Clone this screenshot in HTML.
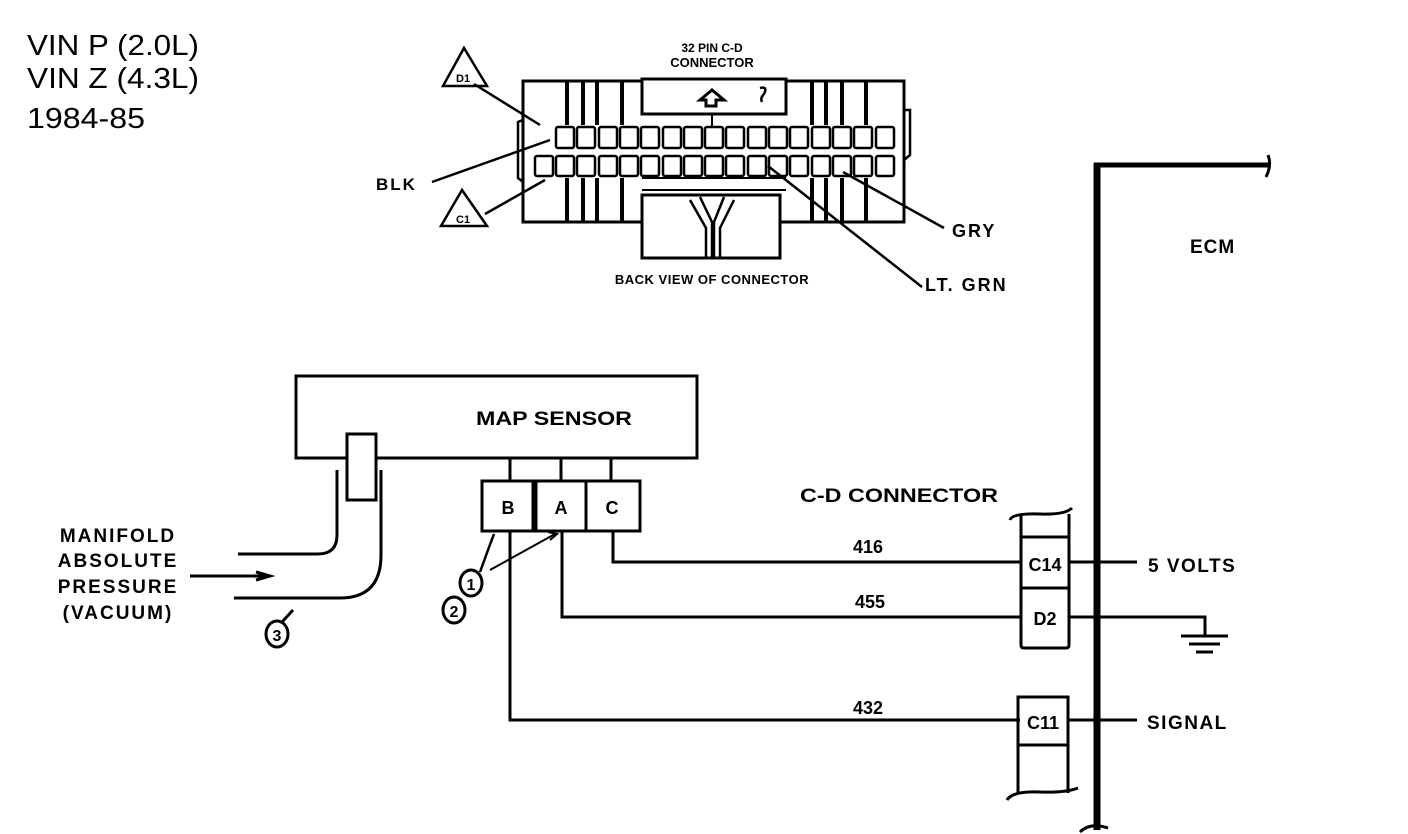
<!DOCTYPE html>
<html><head><meta charset="utf-8"><style>
html,body{margin:0;padding:0;background:#fff;}
svg{display:block;}
.h{font-family:"Liberation Sans",sans-serif;font-weight:bold;fill:#000;}
</style></head><body>
<svg width="1408" height="834" viewBox="0 0 1408 834" xmlns="http://www.w3.org/2000/svg">
<g font-family="Liberation Sans, sans-serif" font-size="29" fill="#000">
<text x="27" y="55" textLength="172" lengthAdjust="spacingAndGlyphs">VIN P (2.0L)</text>
<text x="27" y="88" textLength="172" lengthAdjust="spacingAndGlyphs">VIN Z (4.3L)</text>
<text x="27" y="128" textLength="118" lengthAdjust="spacingAndGlyphs">1984-85</text>
</g>
<!-- connector back view -->
<g stroke="#000" fill="none" stroke-width="3">
<rect x="523" y="81" width="381" height="141"/>
<rect x="642" y="79" width="144" height="35" fill="#fff"/>
<line x1="642" y1="114" x2="786" y2="114" stroke-width="2"/>
<rect x="642" y="195" width="138" height="63" fill="#fff"/>
<path d="M700 100 L712 90 L724 100 L716 100 L716 106 L706 106 L706 100 Z" stroke-width="3"/>
<path d="M760 88 Q768 86 764 94 Q760 98 762 102" stroke-width="2.5"/>
<line x1="712" y1="114" x2="712" y2="126" stroke-width="2"/>
<g stroke-width="4">
<line x1="567" y1="82" x2="567" y2="125"/><line x1="583" y1="82" x2="583" y2="125"/><line x1="597" y1="82" x2="597" y2="125"/><line x1="622" y1="82" x2="622" y2="125"/>
<line x1="812" y1="82" x2="812" y2="125"/><line x1="826" y1="82" x2="826" y2="125"/><line x1="842" y1="82" x2="842" y2="125"/><line x1="866" y1="82" x2="866" y2="125"/>
<line x1="567" y1="178" x2="567" y2="221"/><line x1="583" y1="178" x2="583" y2="221"/><line x1="597" y1="178" x2="597" y2="221"/><line x1="622" y1="178" x2="622" y2="221"/>
<line x1="812" y1="178" x2="812" y2="221"/><line x1="826" y1="178" x2="826" y2="221"/><line x1="842" y1="178" x2="842" y2="221"/><line x1="866" y1="178" x2="866" y2="221"/>
</g>
<line x1="642" y1="178" x2="786" y2="178" stroke-width="2"/>
<line x1="642" y1="190" x2="786" y2="190" stroke-width="2"/>
<path d="M700 197 L712 222 L712 257 M724 197 L714 222 L714 257 M690 200 L706 228 L706 257 M734 200 L720 228 L720 257" stroke-width="2.5"/>
<path d="M523 120 L518 122 L518 178 L523 182 M904 110 L910 110 L910 155 L904 160" stroke-width="2.5"/>
</g>
<g stroke="#000" fill="#fff" stroke-width="2.5">
<rect x="556" y="127" width="18" height="21" rx="2"/><rect x="577" y="127" width="18" height="21" rx="2"/><rect x="599" y="127" width="18" height="21" rx="2"/><rect x="620" y="127" width="18" height="21" rx="2"/><rect x="641" y="127" width="18" height="21" rx="2"/><rect x="663" y="127" width="18" height="21" rx="2"/><rect x="684" y="127" width="18" height="21" rx="2"/><rect x="705" y="127" width="18" height="21" rx="2"/><rect x="726" y="127" width="18" height="21" rx="2"/><rect x="748" y="127" width="18" height="21" rx="2"/><rect x="769" y="127" width="18" height="21" rx="2"/><rect x="790" y="127" width="18" height="21" rx="2"/><rect x="812" y="127" width="18" height="21" rx="2"/><rect x="833" y="127" width="18" height="21" rx="2"/><rect x="854" y="127" width="18" height="21" rx="2"/><rect x="876" y="127" width="18" height="21" rx="2"/>
<rect x="535" y="156" width="18" height="20" rx="2"/><rect x="556" y="156" width="18" height="20" rx="2"/><rect x="577" y="156" width="18" height="20" rx="2"/><rect x="599" y="156" width="18" height="20" rx="2"/><rect x="620" y="156" width="18" height="20" rx="2"/><rect x="641" y="156" width="18" height="20" rx="2"/><rect x="663" y="156" width="18" height="20" rx="2"/><rect x="684" y="156" width="18" height="20" rx="2"/><rect x="705" y="156" width="18" height="20" rx="2"/><rect x="726" y="156" width="18" height="20" rx="2"/><rect x="748" y="156" width="18" height="20" rx="2"/><rect x="769" y="156" width="18" height="20" rx="2"/><rect x="790" y="156" width="18" height="20" rx="2"/><rect x="812" y="156" width="18" height="20" rx="2"/><rect x="833" y="156" width="18" height="20" rx="2"/><rect x="854" y="156" width="18" height="20" rx="2"/><rect x="876" y="156" width="18" height="20" rx="2"/>
</g>
<!-- triangles and leaders -->
<g stroke="#000" fill="none" stroke-width="2.5">
<path d="M464 48 L443 86 L487 86 Z" fill="#fff"/>
<path d="M462 190 L441 226 L487 226 Z" fill="#fff"/>
<line x1="474" y1="84" x2="540" y2="125"/>
<line x1="432" y1="182" x2="550" y2="140"/>
<line x1="485" y1="214" x2="545" y2="180"/>
<line x1="944" y1="228" x2="843" y2="172"/>
<line x1="922" y1="287" x2="768" y2="166"/>
</g>
<text class="h" x="456" y="82" font-size="11">D1</text>
<text class="h" x="456" y="223" font-size="11">C1</text>
<text class="h" x="712" y="52" font-size="12" text-anchor="middle">32 PIN C-D</text>
<text class="h" x="712" y="67" font-size="13" text-anchor="middle">CONNECTOR</text>
<text class="h" x="712" y="284" font-size="13" text-anchor="middle" letter-spacing="0.5">BACK VIEW OF CONNECTOR</text>
<text class="h" x="376" y="190" font-size="17" letter-spacing="2">BLK</text>
<text class="h" x="952" y="237" font-size="18" letter-spacing="2">GRY</text>
<text class="h" x="925" y="291" font-size="18" letter-spacing="2">LT. GRN</text>
<text class="h" x="1190" y="253" font-size="19" letter-spacing="1">ECM</text>
<!-- ECM bar -->
<g stroke="#000" fill="none">
<line x1="1097" y1="163" x2="1097" y2="830" stroke-width="7"/>
<line x1="1094" y1="165" x2="1268" y2="165" stroke-width="5"/>
<path d="M1268 155 Q1272 165 1266 177" stroke-width="3"/>
<path d="M1080 832 Q1090 822 1108 828" stroke-width="3"/>
</g>
<!-- MAP sensor -->
<g stroke="#000" fill="none" stroke-width="3">
<rect x="296" y="376" width="401" height="82" fill="#fff"/>
<rect x="347" y="434" width="29" height="66" fill="#fff"/>
<path d="M337 470 L337 535 Q337 554 318 554 L238 554"/>
<path d="M381 470 L381 555 Q381 598 340 598 L234 598"/>
<line x1="190" y1="576" x2="270" y2="576"/>
<path d="M256 572 L270 576 L256 580"/>
<line x1="510" y1="458" x2="510" y2="481"/><line x1="561" y1="458" x2="561" y2="481"/><line x1="611" y1="458" x2="611" y2="481"/>
<rect x="482" y="481" width="51" height="50" fill="#fff"/>
<rect x="536" y="481" width="50" height="50" fill="#fff"/>
<rect x="586" y="481" width="54" height="50" fill="#fff"/>
<path d="M613 531 L613 562 L1020 562"/>
<path d="M562 531 L562 617 L1020 617"/>
<path d="M510 531 L510 720 L1020 720"/>
<path d="M480 572 L488 550 L494 534" stroke-width="2.5"/>
<path d="M490 570 L555 534" stroke-width="2"/>
<path d="M548 532 L557 534 L550 540" stroke-width="2"/>
<ellipse cx="471" cy="583" rx="11" ry="13" fill="#fff"/>
<ellipse cx="454" cy="610" rx="11" ry="13" fill="#fff"/>
<ellipse cx="277" cy="634" rx="11" ry="13" fill="#fff"/>
<path d="M282 622 L293 610" stroke-width="3"/>
</g>
<text class="h" x="471" y="590" font-size="16" text-anchor="middle">1</text>
<text class="h" x="454" y="617" font-size="16" text-anchor="middle">2</text>
<text class="h" x="277" y="641" font-size="16" text-anchor="middle">3</text>
<text class="h" x="508" y="514" font-size="18" text-anchor="middle">B</text>
<text class="h" x="561" y="514" font-size="18" text-anchor="middle">A</text>
<text class="h" x="612" y="514" font-size="18" text-anchor="middle">C</text>
<text class="h" x="476" y="425" font-size="19" textLength="156" lengthAdjust="spacingAndGlyphs">MAP SENSOR</text>
<g class="h" font-size="19" letter-spacing="2" text-anchor="middle">
<text x="118" y="542">MANIFOLD</text>
<text x="118" y="567">ABSOLUTE</text>
<text x="118" y="593">PRESSURE</text>
<text x="118" y="619">(VACUUM)</text>
</g>
<text class="h" x="800" y="502" font-size="19" textLength="198" lengthAdjust="spacingAndGlyphs">C-D CONNECTOR</text>
<text class="h" x="868" y="553" font-size="18" text-anchor="middle">416</text>
<text class="h" x="870" y="608" font-size="18" text-anchor="middle">455</text>
<text class="h" x="868" y="714" font-size="18" text-anchor="middle">432</text>
<!-- C-D connector on ECM -->
<g stroke="#000" fill="none" stroke-width="3">
<path d="M1010 520 Q1012 513 1040 514 Q1065 515 1072 508"/>
<path d="M1021 514 L1021 645 Q1021 648 1024 648 L1066 648 Q1069 648 1069 645 L1069 514"/>
<line x1="1021" y1="537" x2="1069" y2="537"/>
<line x1="1021" y1="588" x2="1069" y2="588"/>
<path d="M1018 793 L1018 697 L1068 697 L1068 793"/>
<line x1="1018" y1="745" x2="1068" y2="745"/>
<path d="M1007 800 Q1012 791 1040 792 Q1065 793 1078 788"/>
<line x1="1069" y1="562" x2="1137" y2="562"/>
<path d="M1069 617 L1205 617 L1205 636"/>
<line x1="1181" y1="636" x2="1228" y2="636"/>
<line x1="1189" y1="644" x2="1220" y2="644"/>
<line x1="1196" y1="652" x2="1213" y2="652"/>
<line x1="1068" y1="720" x2="1137" y2="720"/>
</g>
<text class="h" x="1045" y="571" font-size="18" text-anchor="middle">C14</text>
<text class="h" x="1045" y="625" font-size="18" text-anchor="middle">D2</text>
<text class="h" x="1043" y="729" font-size="18" text-anchor="middle">C11</text>
<text class="h" x="1148" y="572" font-size="19" letter-spacing="1.5">5 VOLTS</text>
<text class="h" x="1147" y="729" font-size="19" letter-spacing="1.5">SIGNAL</text>
</svg>
</body></html>
